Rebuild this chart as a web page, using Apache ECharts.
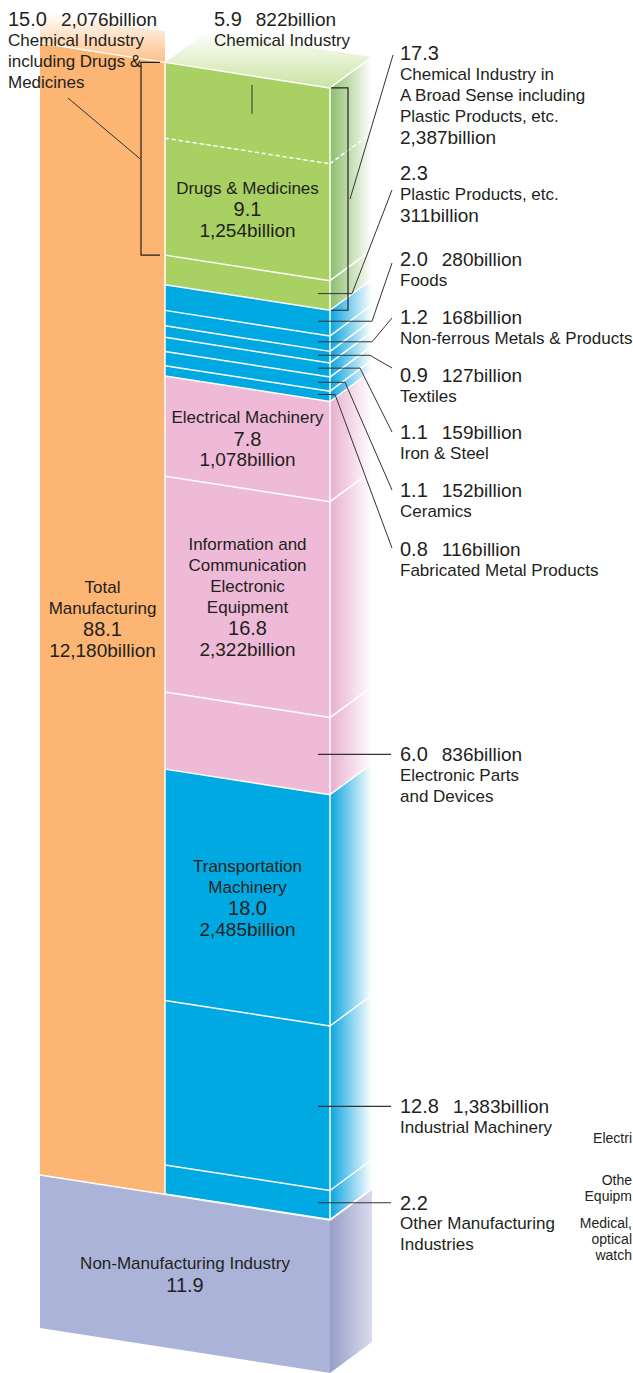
<!DOCTYPE html>
<html>
<head>
<meta charset="utf-8">
<style>
html,body{margin:0;padding:0;background:#fff;}
#chart{width:633px;height:1373px;}
</style>
<script src="https://cdn.jsdelivr.net/npm/echarts@6/dist/echarts.min.js"></script>
</head>
<body>
<div id="chart"></div>
<script>
// ================= DATA =================
const totalNames = ['Total\nManufacturing', 'Non-Manufacturing Industry'];
const totalShares = [88.1, 11.9];
const totalBillions = [12180, null];

const sectorNames = [
  'Chemical Industry',
  'Drugs & Medicines',
  'Plastic Products, etc.',
  'Foods',
  'Non-ferrous Metals & Products',
  'Textiles',
  'Iron & Steel',
  'Ceramics',
  'Fabricated Metal Products',
  'Electrical Machinery',
  'Information and\nCommunication\nElectronic\nEquipment',
  'Electronic Parts\nand Devices',
  'Transportation\nMachinery',
  'Industrial Machinery',
  'Other Manufacturing\nIndustries'
];
const sectorShares = [5.9, 9.1, 2.3, 2.0, 1.2, 0.9, 1.1, 1.1, 0.8, 7.8, 16.8, 6.0, 18.0, 12.8, 2.2];
const sectorBillions = [822, 1254, 311, 280, 168, 127, 159, 152, 116, 1078, 2322, 836, 2485, 1383, null];
const sectorColors = ['green','green','green','blue','blue','blue','blue','blue','blue','pink','pink','pink','blue','blue','blue'];

const groupNames = ['Chemical Industry\nincluding Drugs &\nMedicines', 'Chemical Industry in\nA Broad Sense including\nPlastic Products, etc.'];
const groupShares = [15.0, 17.3];
const groupBillions = [2076, 2387];
const groupLastSector = [1, 2];

// fragments of a neighbouring chart visible at the right edge
const neighbourLabels = ['Electri', 'Othe', 'Equipm', 'Medical,', 'optical', 'watch'];

// ================= LAYOUT / STYLE =================
const GRID = {left: 40, top: 43, width: 290, height: 1285};
const SPLIT = 125 / 290;
const SLOPE = 0.155;
const SIDE_DX = 42, SIDE_DY = -31;
const INK = '#231f20';
const NUM_FONT = "'Liberation Sans', Arial, Helvetica, sans-serif";
const TXT_FONT = "'Liberation Sans', Arial, Helvetica, sans-serif";
const RICH = {
  p: {fontFamily: NUM_FONT, fontSize: 20, lineHeight: 21, fill: INK},
  b: {fontFamily: NUM_FONT, fontSize: 19, lineHeight: 21, fill: INK},
  t: {fontFamily: TXT_FONT, fontSize: 17, lineHeight: 21, fill: INK},
  s: {fontFamily: NUM_FONT, fontSize: 19, lineHeight: 21, width: 14}
};
const PALETTE = {
  orange:   {front: '#fcb572', side: ['#fcb572', '#ffffff'], top: ['rgba(252,181,114,0.85)', 'rgba(252,181,114,0)']},
  green:    {front: '#a8d063', side: ['#8dbd6b', '#ffffff'], top: ['rgba(168,208,99,0.6)', 'rgba(168,208,99,0)']},
  blue:     {front: '#00a9e2', side: ['#0aa4df', '#ffffff']},
  pink:     {front: '#efbad7', side: ['#e8b0ce', '#ffffff']},
  lavender: {front: '#abb3d9', side: ['#979ec6', '#d9dcee']}
};
// label placements (pixels for annotation text only)
const SECTOR_LABELS = [
  {mode: 'top', x: 214, y: 19, fmt: 'pair', lineX: 252, lineTop: 85},
  {mode: 'inside', fmt: 'stack'},
  {mode: 'right', y: 173, fmt: 'split', elbowX: 352, endY: 190},
  {mode: 'right', y: 259, fmt: 'pair', elbowX: 372, endY: 263},
  {mode: 'right', y: 317, fmt: 'pair', elbowX: 372, endY: 318},
  {mode: 'right', y: 375, fmt: 'pair', elbowX: 370, endY: 368},
  {mode: 'right', y: 432, fmt: 'pair', elbowX: 360, endY: 432},
  {mode: 'right', y: 490, fmt: 'pair', elbowX: 345, endY: 490},
  {mode: 'right', y: 549, fmt: 'pair', elbowX: 335, endY: 548},
  {mode: 'inside', fmt: 'stack'},
  {mode: 'inside', fmt: 'stack'},
  {mode: 'side', fmt: 'pair'},
  {mode: 'inside', fmt: 'stack'},
  {mode: 'side', fmt: 'pair'},
  {mode: 'side', fmt: 'split'}
];
const GROUP_LABELS = [
  {x: 8, y: 19, fmt: 'pair', bracketX: 141, tickX: 160, at: SPLIT, endX: 68, endY: 98},
  {x: 400, y: 53, fmt: 'split', bracketX: 348, tickX: 331, at: 1, endX: 393, endY: 55}
];
const NEIGHBOUR_POS = [[632,1138],[632,1180],[632,1196],[632,1223],[632,1239],[632,1255]];

// ================= DERIVED =================
function spans(arr) { let a = 0; return arr.map(v => { const s = a; a += v; return [s, a]; }); }
const totalSpans = spans(totalShares);
const sectorSpans = spans(sectorShares);

const FACES = [];
FACES.push({x0: 0, x1: SPLIT, y0: totalSpans[0][0], y1: totalSpans[0][1], color: 'orange'});
sectorSpans.forEach((s, i) => FACES.push({x0: SPLIT, x1: 1, y0: s[0], y1: s[1], color: sectorColors[i]}));
FACES.push({x0: 0, x1: 1, y0: totalSpans[1][0], y1: totalSpans[1][1], color: 'lavender'});
const SIDES = FACES.filter(f => f.x1 === 1);
const TOPS = [{x0: 0, x1: SPLIT, color: 'orange', dx: 0}, {x0: SPLIT, x1: 1, color: 'green', dx: SIDE_DX}];

const EDGES = [{kind: 'h', x0: 0, x1: SPLIT, y: 0}];
sectorSpans.forEach((s, i) => EDGES.push({kind: 'h', x0: SPLIT, x1: 1, y: s[0], side: true, dash: i === 1}));
EDGES.push({kind: 'h', x0: 0, x1: 1, y: totalSpans[1][0], side: true});
EDGES.push({kind: 'v', x: SPLIT, y0: 0, y1: totalSpans[0][1]});
EDGES.push({kind: 'v', x: 1, y0: 0, y1: totalSpans[0][1]});

function fmtNum(v) { return v.toFixed(1); }
function fmtBil(b) { return b.toLocaleString('en-US'); }
function nameLines(n) { return n.split('\n').map(s => '{t|' + s + '}'); }
function buildText(fmt, name, share, bil) {
  let lines;
  if (fmt === 'stack') {
    lines = nameLines(name);
    lines.push('{p|' + fmtNum(share) + '}');
    if (bil != null) lines.push('{b|' + fmtBil(bil) + 'billion}');
  } else if (fmt === 'pair') {
    let first = '{p|' + fmtNum(share) + '}';
    if (bil != null) first += '{s| }{b|' + fmtBil(bil) + 'billion}';
    lines = [first].concat(nameLines(name));
  } else {
    lines = ['{p|' + fmtNum(share) + '}'].concat(nameLines(name));
    if (bil != null) lines.push('{b|' + fmtBil(bil) + 'billion}');
  }
  return lines.join('\n');
}

// skewed projection through the axes
function pt(api, xv, yv) {
  const p = api.coord([xv, yv]);
  const x0 = api.coord([0, 0])[0];
  return [p[0], p[1] + SLOPE * (p[0] - x0)];
}
function yAtPx(api, yv, px) {
  const p = pt(api, 1, yv);
  return p[1] - SLOPE * (p[0] - px);
}
function textEl(x, y, text, align, valign) {
  return {type: 'text', style: {x: x, y: y, text: text, rich: RICH, fill: INK,
    align: align, textAlign: align, verticalAlign: valign, textVerticalAlign: valign}};
}
function line(points, color, w, dash) {
  return {type: 'polyline', shape: {points: points},
    style: {stroke: color, lineWidth: w, fill: null, lineDash: dash || null}};
}

const chart = echarts.init(document.getElementById('chart'), null, {renderer: 'svg', width: 633, height: 1373});

const option = {
  animation: false,
  backgroundColor: '#ffffff',
  grid: {left: GRID.left, top: GRID.top, width: GRID.width, height: GRID.height},
  xAxis: {type: 'value', min: 0, max: 1, show: false},
  yAxis: {type: 'value', min: 0, max: 100, inverse: true, show: false},
  graphic: neighbourLabels.map((t, i) => ({
    type: 'text', x: NEIGHBOUR_POS[i][0], y: NEIGHBOUR_POS[i][1],
    style: {text: t, fill: INK, font: '14px ' + TXT_FONT, align: 'right', verticalAlign: 'middle'}
  })),
  series: [
    { // top faces
      type: 'custom', coordinateSystem: 'cartesian2d', silent: true,
      data: TOPS.map(f => [f.x0, f.x1]),
      renderItem: (params, api) => {
        const f = TOPS[params.dataIndex];
        const a = pt(api, api.value(0), 0), b = pt(api, api.value(1), 0);
        const c = PALETTE[f.color].top;
        return {type: 'polygon',
          shape: {points: [a, b, [b[0] + f.dx, b[1] + SIDE_DY], [a[0] + f.dx, a[1] + SIDE_DY]]},
          style: {fill: new echarts.graphic.LinearGradient(0, 1, 0, 0, [{offset: 0, color: c[0]}, {offset: 1, color: c[1]}])}};
      }
    },
    { // side faces
      type: 'custom', coordinateSystem: 'cartesian2d', silent: true,
      data: SIDES.map(f => [f.y0, f.y1]),
      renderItem: (params, api) => {
        const f = SIDES[params.dataIndex];
        const a = pt(api, 1, api.value(0)), b = pt(api, 1, api.value(1));
        const c = PALETTE[f.color].side;
        return {type: 'polygon',
          shape: {points: [a, [a[0] + SIDE_DX, a[1] + SIDE_DY], [b[0] + SIDE_DX, b[1] + SIDE_DY], b]},
          style: {fill: new echarts.graphic.LinearGradient(0, 0, 1, 0, [{offset: 0, color: c[0]}, {offset: 1, color: c[1]}])}};
      }
    },
    { // front faces
      type: 'custom', coordinateSystem: 'cartesian2d', silent: true,
      data: FACES.map(f => [f.x0, f.x1, f.y0, f.y1]),
      renderItem: (params, api) => {
        const f = FACES[params.dataIndex];
        const x0 = api.value(0), x1 = api.value(1), y0 = api.value(2), y1 = api.value(3);
        return {type: 'polygon',
          shape: {points: [pt(api, x0, y0), pt(api, x1, y0), pt(api, x1, y1), pt(api, x0, y1)]},
          style: {fill: PALETTE[f.color].front}};
      }
    },
    { // white edges
      type: 'custom', coordinateSystem: 'cartesian2d', silent: true,
      data: EDGES.map(e => e.kind === 'h' ? [e.x0, e.y] : [e.x, e.y0]),
      renderItem: (params, api) => {
        const e = EDGES[params.dataIndex];
        const ch = [];
        if (e.kind === 'h') {
          const dash = e.dash ? [4, 3] : null;
          ch.push(line([pt(api, e.x0, e.y), pt(api, e.x1, e.y)], '#ffffff', 1.5, dash));
          if (e.side) {
            const r = pt(api, 1, e.y);
            ch.push(line([r, [r[0] + SIDE_DX, r[1] + SIDE_DY]], '#ffffff', 1.5, dash));
          }
        } else {
          ch.push(line([pt(api, e.x, e.y0), pt(api, e.x, e.y1)], '#ffffff', 1.5));
        }
        return {type: 'group', children: ch};
      }
    },
    { // totals labels
      type: 'custom', coordinateSystem: 'cartesian2d', silent: true,
      data: totalSpans.map(s => [s[0], s[1]]),
      renderItem: (params, api) => {
        const i = params.dataIndex;
        const x1 = i === 0 ? SPLIT : 1;
        const c = pt(api, x1 / 2, (api.value(0) + api.value(1)) / 2);
        return textEl(c[0], c[1], buildText('stack', totalNames[i], totalShares[i], totalBillions[i]), 'center', 'middle');
      }
    },
    { // sector labels + leaders
      type: 'custom', coordinateSystem: 'cartesian2d', silent: true,
      data: sectorSpans.map(s => [s[0], s[1]]),
      renderItem: (params, api) => {
        const i = params.dataIndex;
        const L = SECTOR_LABELS[i];
        const mid = (api.value(0) + api.value(1)) / 2;
        const txt = buildText(L.fmt, sectorNames[i], sectorShares[i], sectorBillions[i]);
        const ch = [];
        if (L.mode === 'inside') {
          const c = pt(api, (SPLIT + 1) / 2, mid);
          ch.push(textEl(c[0], c[1], txt, 'center', 'middle'));
        } else if (L.mode === 'top') {
          ch.push(textEl(L.x, L.y - 10.5, txt, 'left', 'top'));
          ch.push(line([[L.lineX, L.lineTop], [L.lineX, yAtPx(api, mid, L.lineX)]], '#333333', 1));
        } else {
          const r = pt(api, 1, mid);
          const sx = r[0] - 12, sy = r[1] - 12 * SLOPE;
          if (L.mode === 'right') {
            ch.push(line([[sx, sy], [L.elbowX, sy], [392, L.endY]], '#333333', 1));
            ch.push(textEl(400, L.y - 10.5, txt, 'left', 'top'));
          } else {
            ch.push(line([[sx, sy], [391, sy]], '#333333', 1.2));
            ch.push(textEl(400, sy - 10.5, txt, 'left', 'top'));
          }
        }
        return {type: 'group', children: ch};
      }
    },
    { // group brackets + labels
      type: 'custom', coordinateSystem: 'cartesian2d', silent: true,
      data: groupLastSector.map(k => [0, sectorSpans[k][1]]),
      renderItem: (params, api) => {
        const i = params.dataIndex;
        const G = GROUP_LABELS[i];
        const top = pt(api, G.at, api.value(0))[1];
        const bot = pt(api, G.at, api.value(1))[1];
        const bx = G.bracketX, tx = G.tickX;
        const ch = [];
        ch.push(line([[tx, top], [bx, top], [bx, bot], [tx, bot]], INK, 1.2));
        const lx = bx + (i === 0 ? -1 : 2);
        ch.push(line([[lx, (top + bot) / 2], [G.endX, G.endY]], '#333333', 1));
        ch.push(textEl(G.x, G.y - 10.5, buildText(G.fmt, groupNames[i], groupShares[i], groupBillions[i]), 'left', 'top'));
        return {type: 'group', children: ch};
      }
    }
  ]
};
chart.setOption(option);
</script>
</body>
</html>
